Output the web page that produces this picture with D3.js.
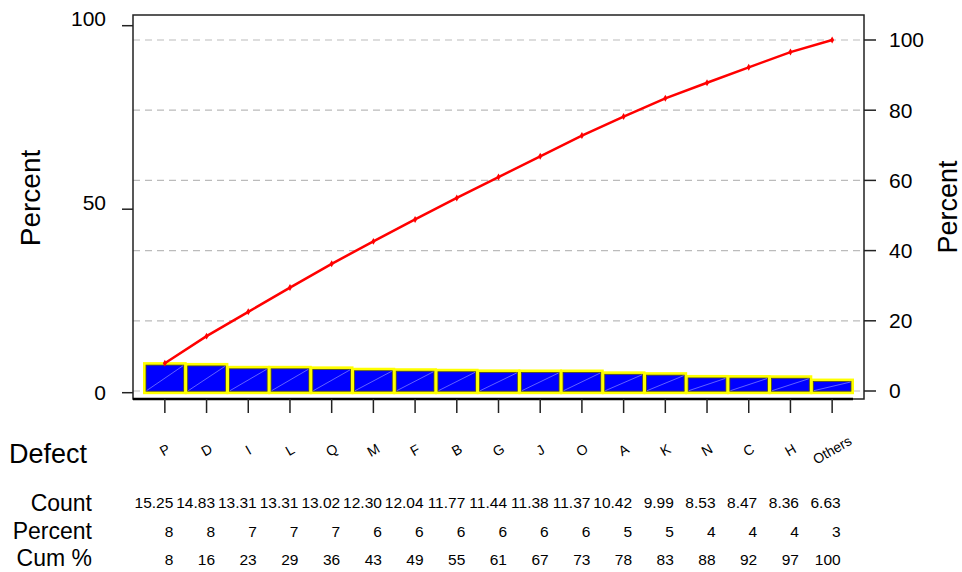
<!DOCTYPE html>
<html>
<head>
<meta charset="utf-8">
<script src="https://cdn.jsdelivr.net/npm/d3@7"></script>
<style>
    body { margin: 0; background: #fff; }
    svg { display: block; font-family: "Liberation Sans", Arial, sans-serif; }
</style>
</head>
<body>
<svg id="chart" width="962" height="572"></svg>
<script>
// Chart data.
let defects = ["P", "D", "I", "L", "Q", "M", "F", "B", "G", "J", "O", "A", "K", "N", "C", "H", "Others"];
let counts = [15.25, 14.83, 13.31, 13.31, 13.02, 12.30, 12.04, 11.77, 11.44, 11.38, 11.37, 10.42, 9.99, 8.53, 8.47, 8.36, 6.63];
let percentLabels = [8, 8, 7, 7, 7, 6, 6, 6, 6, 6, 6, 5, 5, 4, 4, 4, 3];
let cumLabels = [8, 16, 23, 29, 36, 43, 49, 55, 61, 67, 73, 78, 83, 88, 92, 97, 100];
let leftTicks = [0, 50, 100];
let rightTicks = [0, 20, 40, 60, 80, 100];

// Display parameters.
let frame = {left: 133, top: 15, right: 864, bottom: 399};
let axisColour = "#222";
let barFill = "#0000ff";
let barStroke = "#ffff00";
let lineColour = "#ff0000";

let svg = d3.select("#chart");

// Percent of total and cumulative percent, from the counts.
let total = d3.sum(counts);
let cum = 0;
let rows = defects.map(function(name, i) {
    cum += counts[i];
    return {name: name, count: counts[i], pct: counts[i] / total * 100, cum: cum / total * 100};
});

// Scales.
let x = d3.scaleBand().domain(defects).range([144, 853]).padding(0);
let yLeft = d3.scaleLinear().domain([0, 100]).range([392.7, 25.7]);
let yRight = d3.scaleLinear().domain([0, 100]).range([391, 40]);

// Dashed gridlines at the right axis ticks.
svg.append("g")
    .selectAll("line")
    .data(rightTicks)
    .enter()
    .append("line")
    .attr("x1", frame.left)
    .attr("x2", frame.right)
    .attr("y1", d => yRight(d))
    .attr("y2", d => yRight(d))
    .attr("stroke", "#bbb")
    .attr("stroke-width", 1.2)
    .attr("stroke-dasharray", "7,5");

// Bars.
let bar = svg.append("g")
    .selectAll("g")
    .data(rows)
    .enter()
    .append("g");

bar.append("rect")
    .attr("x", d => x(d.name) + 0.5)
    .attr("y", d => yLeft(d.pct))
    .attr("width", x.bandwidth() - 1)
    .attr("height", d => yLeft(0) - yLeft(d.pct))
    .attr("fill", barFill)
    .attr("stroke", barStroke)
    .attr("stroke-width", 3);

bar.append("rect")
    .attr("x", d => x(d.name) + 2)
    .attr("y", d => yLeft(d.pct) + 1.5)
    .attr("width", x.bandwidth() - 4)
    .attr("height", d => yLeft(0) - yLeft(d.pct) - 3)
    .attr("fill", "none")
    .attr("stroke", "#4d4d1a")
    .attr("stroke-width", 0.8);

// Thin diagonal hatch line in each bar.
bar.append("line")
    .attr("x1", d => x(d.name) + 2.5)
    .attr("y1", d => yLeft(0) - 2)
    .attr("x2", d => x(d.name) + x.bandwidth() - 2.5)
    .attr("y2", d => yLeft(d.pct) + 2)
    .attr("stroke", "#8c8cff")
    .attr("stroke-width", 0.7);

// Cumulative percent line.
let line = d3.line()
    .x(d => x(d.name) + x.bandwidth() / 2)
    .y(d => yRight(d.cum));

svg.append("path")
    .datum(rows)
    .attr("d", line)
    .attr("fill", "none")
    .attr("stroke", lineColour)
    .attr("stroke-width", 2.5);

svg.append("g")
    .selectAll("path")
    .data(rows)
    .enter()
    .append("path")
    .attr("d", d3.symbol().type(d3.symbolDiamond).size(14))
    .attr("transform", d => `translate(${x(d.name) + x.bandwidth() / 2},${yRight(d.cum)})`)
    .attr("fill", lineColour);

// Frame.
svg.append("rect")
    .attr("x", frame.left)
    .attr("y", frame.top)
    .attr("width", frame.right - frame.left)
    .attr("height", frame.bottom - frame.top)
    .attr("fill", "none")
    .attr("stroke", axisColour)
    .attr("stroke-width", 1.5);

svg.append("line")
    .attr("x1", frame.left)
    .attr("x2", 853)
    .attr("y1", frame.bottom)
    .attr("y2", frame.bottom)
    .attr("stroke", "#000")
    .attr("stroke-width", 2.5);

// Left axis.
let leftAxis = svg.append("g");
leftAxis.selectAll("line")
    .data(leftTicks)
    .enter()
    .append("line")
    .attr("x1", 122)
    .attr("x2", frame.left)
    .attr("y1", d => yLeft(d))
    .attr("y2", d => yLeft(d))
    .attr("stroke", axisColour)
    .attr("stroke-width", 1.5);
leftAxis.selectAll("text")
    .data(leftTicks)
    .enter()
    .append("text")
    .attr("x", 106)
    .attr("y", d => yLeft(d) - (d > 0 ? 7 : 0))
    .attr("dy", "0.35em")
    .attr("text-anchor", "end")
    .attr("font-size", 21)
    .text(d => d);

// Right axis.
let rightAxis = svg.append("g");
rightAxis.selectAll("line")
    .data(rightTicks)
    .enter()
    .append("line")
    .attr("x1", frame.right)
    .attr("x2", 876)
    .attr("y1", d => yRight(d))
    .attr("y2", d => yRight(d))
    .attr("stroke", axisColour)
    .attr("stroke-width", 1.5);
rightAxis.selectAll("text")
    .data(rightTicks)
    .enter()
    .append("text")
    .attr("x", 889)
    .attr("y", d => yRight(d))
    .attr("dy", "0.35em")
    .attr("font-size", 21)
    .text(d => d);

// Axis titles.
svg.append("text")
    .attr("transform", "translate(40,198) rotate(-90)")
    .attr("text-anchor", "middle")
    .attr("font-size", 28)
    .text("Percent");

svg.append("text")
    .attr("transform", "translate(957,207) rotate(-90)")
    .attr("text-anchor", "middle")
    .attr("font-size", 27)
    .text("Percent");

// X ticks and category labels.
svg.append("g")
    .selectAll("line")
    .data(defects)
    .enter()
    .append("line")
    .attr("x1", d => x(d) + x.bandwidth() / 2)
    .attr("x2", d => x(d) + x.bandwidth() / 2)
    .attr("y1", frame.bottom)
    .attr("y2", 413)
    .attr("stroke", axisColour)
    .attr("stroke-width", 1.5);

svg.append("g")
    .selectAll("text")
    .data(defects)
    .enter()
    .append("text")
    .attr("transform", d => `translate(${x(d) + x.bandwidth() / 2},450) rotate(-30)`)
    .attr("text-anchor", "middle")
    .attr("dy", "0.35em")
    .attr("font-size", 14)
    .text(d => d);

svg.append("text")
    .attr("x", 9)
    .attr("y", 463)
    .attr("font-size", 27)
    .text("Defect");

// Table below the chart.
let rowNames = ["Count", "Percent", "Cum %"];
let rowLabelY = [511, 539, 566];
let rowValueY = [508, 537, 565];
let rowValues = [counts.map(d3.format(".2f")), percentLabels, cumLabels];

rowNames.forEach(function(name, r) {
    svg.append("text")
        .attr("x", 92)
        .attr("y", rowLabelY[r])
        .attr("text-anchor", "end")
        .attr("font-size", 23)
        .text(name);

    svg.append("g")
        .selectAll("text")
        .data(rowValues[r])
        .enter()
        .append("text")
        .attr("x", (d, i) => x(defects[i]) + x.bandwidth() / 2 + 8.5)
        .attr("y", rowValueY[r])
        .attr("text-anchor", "end")
        .attr("font-size", 15.5)
        .text(d => d);
});
</script>
</body>
</html>
